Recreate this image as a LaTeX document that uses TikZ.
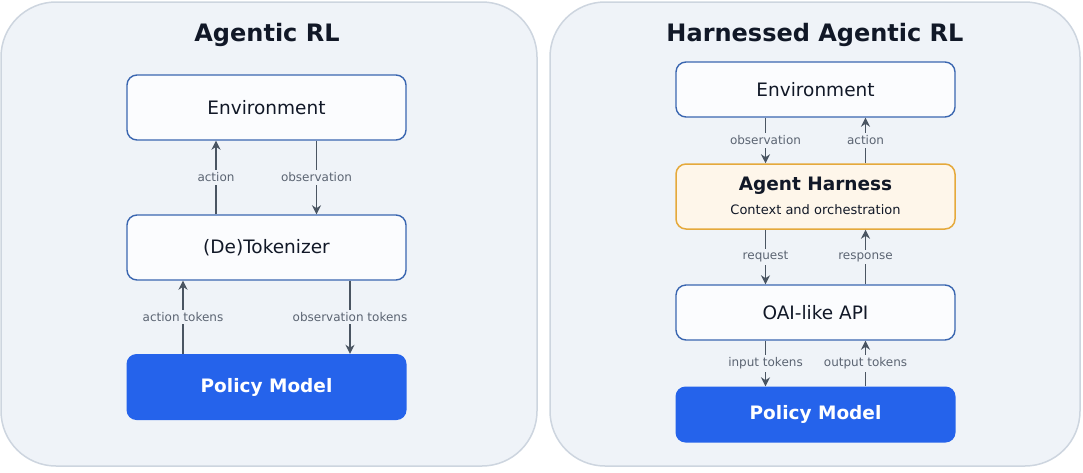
\documentclass[tikz,border=0pt]{standalone}
\usepackage{fontspec}
\setmainfont{DejaVu Sans}
\usetikzlibrary{arrows.meta}
\definecolor{panelfill}{HTML}{EFF3F8}
\definecolor{panelline}{HTML}{CDD5DF}
\definecolor{boxline}{HTML}{3A66B0}
\definecolor{boxfill}{HTML}{FBFCFE}
\definecolor{policyfill}{HTML}{2563EB}
\definecolor{harnessfill}{HTML}{FEF6EA}
\definecolor{harnessline}{HTML}{E5A93B}
\definecolor{arrowcol}{HTML}{4A5562}
\definecolor{labelcol}{HTML}{5B6472}
\definecolor{textcol}{HTML}{111827}
\tikzset{
  panel/.style={draw=panelline, line width=1.5pt, fill=panelfill, rounded corners=55pt, minimum width=536pt, minimum height=464pt, inner sep=0pt},
  ptitle/.style={font=\fontsize{24}{28}\selectfont\bfseries, text=textcol, inner sep=0pt},
  wbox/.style={draw=boxline, line width=1.4pt, fill=boxfill, rounded corners=10pt, minimum width=279pt, inner sep=0pt, font=\fontsize{18.5}{22}\selectfont, text=textcol},
  pbox/.style={fill=policyfill, rounded corners=10pt, minimum width=280pt, inner sep=0pt, font=\fontsize{18.5}{22}\selectfont\bfseries, text=white},
  hbox/.style={draw=harnessline, line width=1.5pt, fill=harnessfill, rounded corners=10pt, minimum width=279pt, minimum height=65pt, inner sep=0pt, text=textcol},
  arr/.style={draw=arrowcol, line width=1.8pt, -{Stealth[length=9pt,width=9pt]}},
  lbl/.style={fill=panelfill, text=labelcol, font=\fontsize{12}{14}\selectfont, inner sep=2.5pt}
}
\begin{document}
\begin{tikzpicture}[x=1pt,y=-1pt]
\useasboundingbox (0,0) rectangle (1083,472);
% panels
\node[panel] (lp) at (269,234) {};
\node[panel, minimum width=530pt] (rp) at (815,234) {};
\node[ptitle] (lt) at (267,35) {Agentic RL};
\node[ptitle] (rt) at (815,35) {Harnessed Agentic RL};
% left boxes
\node[wbox, minimum height=65pt] (env) at (266.5,107.5) {Environment};
\node[wbox, minimum height=65pt] (tok) at (266.5,247.5) {(De)Tokenizer};
\node[pbox, minimum height=66pt] (pol) at (266.5,387) {Policy Model};
\draw[arr] ([xshift=-50.5pt]tok.north) -- ([xshift=-50.5pt]env.south) node[lbl,midway] {action};
\draw[arr] ([xshift=50pt]env.south) -- ([xshift=50pt]tok.north) node[lbl,midway] {observation};
\draw[arr] ([xshift=-83.5pt]pol.north) -- ([xshift=-83.5pt]tok.south) node[lbl,midway] {action tokens};
\draw[arr] ([xshift=83.5pt]tok.south) -- ([xshift=83.5pt]pol.north) node[lbl,midway] {observation tokens};
% right boxes
\node[wbox, minimum height=55pt] (renv) at (815.5,89.5) {Environment};
\node[hbox] (har) at (815.5,196.5) {};
\node[font=\fontsize{18.5}{22}\selectfont\bfseries, text=textcol, inner sep=0pt] (hart) at (815.5,186) {Agent Harness};
\node[font=\fontsize{13}{15}\selectfont, text=textcol, inner sep=0pt] (hars) at (815.5,210) {Context and orchestration};
\node[wbox, minimum height=55pt] (api) at (815.5,312.5) {OAI-like API};
\node[pbox, minimum height=56pt] (rpol) at (815.5,414.5) {Policy Model};
\draw[arr] ([xshift=-50pt]renv.south) -- ([xshift=-50pt]har.north) node[lbl,midway] {observation};
\draw[arr] ([xshift=50pt]har.north) -- ([xshift=50pt]renv.south) node[lbl,midway] {action};
\draw[arr] ([xshift=-50pt]har.south) -- ([xshift=-50pt]api.north) node[lbl,midway] {request};
\draw[arr] ([xshift=50pt]api.north) -- ([xshift=50pt]har.south) node[lbl,midway] {response};
\draw[arr] ([xshift=-50pt]api.south) -- ([xshift=-50pt]rpol.north) node[lbl,midway] {input tokens};
\draw[arr] ([xshift=50pt]rpol.north) -- ([xshift=50pt]api.south) node[lbl,midway] {output tokens};
\end{tikzpicture}
\end{document}
